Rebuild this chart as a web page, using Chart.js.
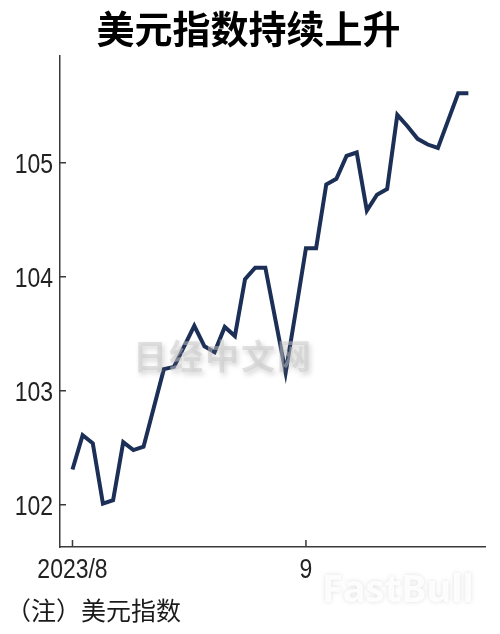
<!DOCTYPE html>
<html>
<head>
<meta charset="utf-8">
<script src="https://cdn.jsdelivr.net/npm/chart.js@4.4.0/dist/chart.umd.min.js"></script>
<style>
	body{margin:0;background:#fff;}
	#wrap{position:relative;width:500px;height:634px;}
	.mark{position:absolute;pointer-events:none;white-space:nowrap;}
	#note{left:6px;top:594px;font:25px/30px "Noto Sans CJK SC";color:#1a1a1a;}
	#mark1{left:133px;top:330px;font:bold 34px "Noto Sans CJK SC";color:rgba(200,200,200,0.5);letter-spacing:2px;text-shadow:2px 3px 5px rgba(120,120,120,0.3);}
	#mark2{left:322px;top:561px;font:bold 38px "Noto Sans";color:rgba(255,255,255,0.9);text-shadow:0 0 4px rgba(150,150,150,0.3);}
</style>
</head>
<body>
<div id="wrap">
	<canvas id="dxyChart" width="500" height="634"></canvas>
	<div class="mark" id="note"></div>
	<div class="mark" id="mark1">日经中文网</div>
	<div class="mark" id="mark2">FastBull</div>
</div>
<script>
//--------------------DATA------------------------------------//
var chartTitle = '美元指数持续上升';
var chartNote = '（注）美元指数';

// business days, 2023/8/1 .. 2023/9/25
var dates = ['8/1','8/2','8/3','8/4','8/7','8/8','8/9','8/10','8/11','8/14',
	'8/15','8/16','8/17','8/18','8/21','8/22','8/23','8/24','8/25','8/28',
	'8/29','8/30','8/31','9/1','9/4','9/5','9/6','9/7','9/8','9/11',
	'9/12','9/13','9/14','9/15','9/18','9/19','9/20','9/21','9/22','9/25'];

var dxyValues = [102.31,102.61,102.54,102.01,102.04,102.55,102.48,102.51,102.85,103.19,
	103.21,103.39,103.57,103.39,103.34,103.56,103.48,103.98,104.08,104.08,
	103.62,103.16,103.70,104.25,104.25,104.81,104.86,105.06,105.09,104.58,
	104.72,104.77,105.42,105.32,105.21,105.16,105.13,105.37,105.61,105.61];

var yTicks = [102,103,104,105];
var xTickIdx = [0,23];
var xTickLabels = ['2023/8','9'];

//--------------------CHART-----------------------------------//
var lineColor = '#1c2f57';
var axisColor = '#3a3a3a';
var labelFont = '28px "Liberation Sans"';

document.getElementById('note').textContent = chartNote;

var points = [];
for(var i=0;i<dxyValues.length;i++){
	points.push({x:i, y:dxyValues[i], d:dates[i]});
}

// tick marks inside the plot, labels in a narrow face (squeezed Liberation Sans)
var axisDeco = {
	id:'axisDeco',
	afterDraw:function(chart){
		var ctx = chart.ctx;
		var area = chart.chartArea;
		var xs = chart.scales.x, ys = chart.scales.y;
		ctx.save();
		ctx.strokeStyle = axisColor;
		ctx.lineWidth = 1.5;
		ctx.beginPath();
		for(var i=0;i<yTicks.length;i++){
			var py = ys.getPixelForValue(yTicks[i]);
			ctx.moveTo(area.left, py);
			ctx.lineTo(area.left+6, py);
		}
		for(var j=0;j<xTickIdx.length;j++){
			var px = xs.getPixelForValue(xTickIdx[j]);
			ctx.moveTo(px, area.bottom);
			ctx.lineTo(px, area.bottom-7);
		}
		ctx.stroke();

		ctx.fillStyle = '#222';
		ctx.font = labelFont;
		ctx.textBaseline = 'alphabetic';
		for(var a=0;a<yTicks.length;a++){
			var ty = ys.getPixelForValue(yTicks[a]);
			ctx.save();
			ctx.translate(area.left-7, ty+10);
			ctx.scale(0.82,1);
			ctx.textAlign = 'right';
			ctx.fillText(String(yTicks[a]),0,0);
			ctx.restore();
		}
		for(var b=0;b<xTickIdx.length;b++){
			var tx = xs.getPixelForValue(xTickIdx[b]);
			ctx.save();
			ctx.translate(tx, area.bottom+31);
			ctx.scale(0.82,1);
			ctx.textAlign = 'center';
			ctx.fillText(xTickLabels[b],0,0);
			ctx.restore();
		}
		ctx.restore();
	}
};

var ctx = document.getElementById('dxyChart').getContext('2d');
var dxyChart = new Chart(ctx, {
	type:'line',
	data:{
		datasets:[{
			label:'美元指数',
			data:points,
			borderColor:lineColor,
			borderWidth:4,
			pointRadius:0,
			tension:0,
			fill:false
		}]
	},
	options:{
		responsive:false,
		animation:false,
		layout:{padding:{left:12,right:15,top:0,bottom:50}},
		plugins:{
			legend:{display:false},
			tooltip:{enabled:false},
			title:{
				display:true,
				text:chartTitle,
				color:'#000',
				font:{family:'"Noto Sans CJK SC"',size:38,weight:'bold',lineHeight:1.2},
				padding:{top:6,bottom:4}
			}
		},
		scales:{
			x:{
				type:'linear',
				min:-1.23,
				max:40.64,
				grid:{display:false,drawTicks:false},
				border:{display:true,color:axisColor,width:1.5},
				ticks:{display:false},
				afterFit:function(axis){
					axis.height = 37;
				}
			},
			y:{
				min:101.63,
				max:105.94,
				grid:{display:false,drawTicks:false},
				border:{display:true,color:axisColor,width:1.5},
				ticks:{display:false},
				afterFit:function(axis){
					axis.width = 48;
				}
			}
		}
	},
	plugins:[axisDeco]
});
</script>
</body>
</html>
